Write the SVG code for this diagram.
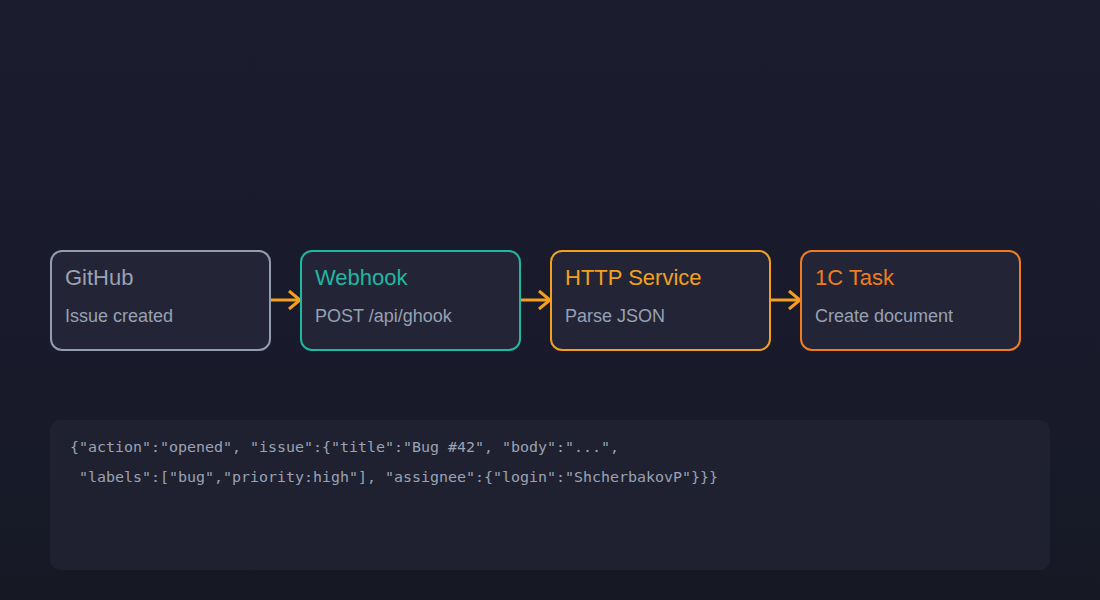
<svg xmlns="http://www.w3.org/2000/svg" width="1100" height="600" viewBox="0 0 1100 600">
<defs>
<linearGradient id="bg" x1="0" y1="0" x2="0" y2="1">
<stop offset="0" stop-color="#1b1c2e"/>
<stop offset="0.76" stop-color="#181a2a"/>
<stop offset="0.77" stop-color="#171a28"/>
<stop offset="1" stop-color="#161824"/>
</linearGradient>
<marker id="arr" viewBox="0 0 16 22" refX="14" refY="11" markerWidth="16" markerHeight="22" markerUnits="userSpaceOnUse" orient="auto">
<path d="M3,2 L14,11 L3,20" fill="none" stroke="#f2a01e" stroke-width="3"/>
</marker>
<style>
.box{fill:#232536;stroke-width:2}
.title{font-family:"Liberation Sans",Arial,sans-serif;font-size:22px}
.sub{font-family:"Liberation Sans",Arial,sans-serif;font-size:18px;fill:#98a0b3}
.code{font-family:"DejaVu Sans Mono","Liberation Mono",monospace;font-size:14.5px;fill:#9aa2b4;white-space:pre}
.conn{stroke:#f2a01e;stroke-width:3;fill:none}
</style>
</defs>
<rect width="1100" height="600" fill="url(#bg)"/>
<g id="connectors">
<line class="conn" x1="271" y1="300" x2="300" y2="300" marker-end="url(#arr)"/>
<line class="conn" x1="521" y1="300" x2="550" y2="300" marker-end="url(#arr)"/>
<line class="conn" x1="771" y1="300" x2="800" y2="300" marker-end="url(#arr)"/>
</g>
<g id="github">
<rect class="box" x="51" y="251" width="219" height="99" rx="11" stroke="#949cb0"/>
<text class="title" x="65" y="285" fill="#9aa2b4">GitHub</text>
<text class="sub" x="65" y="322">Issue created</text>
</g>
<g id="webhook">
<rect class="box" x="301" y="251" width="219" height="99" rx="11" stroke="#1fb8a2"/>
<text class="title" x="315" y="285" fill="#1fb8a2">Webhook</text>
<text class="sub" x="315" y="322">POST /api/ghook</text>
</g>
<g id="http">
<rect class="box" x="551" y="251" width="219" height="99" rx="11" stroke="#f2a01e"/>
<text class="title" x="565" y="285" fill="#f2a01e">HTTP Service</text>
<text class="sub" x="565" y="322">Parse JSON</text>
</g>
<g id="task">
<rect class="box" x="801" y="251" width="219" height="99" rx="11" stroke="#f07c22"/>
<text class="title" x="815" y="285" fill="#f07c22">1C Task</text>
<text class="sub" x="815" y="322">Create document</text>
</g>
<g id="payload">
<rect x="50" y="420" width="1000" height="150" rx="10" fill="#1f2130"/>
<text class="code" x="70" y="452" textLength="549" lengthAdjust="spacingAndGlyphs">{"action":"opened", "issue":{"title":"Bug #42", "body":"...",</text>
<text class="code" x="70" y="482" textLength="648" lengthAdjust="spacingAndGlyphs"> "labels":["bug","priority:high"], "assignee":{"login":"ShcherbakovP"}}}</text>
</g>
</svg>
